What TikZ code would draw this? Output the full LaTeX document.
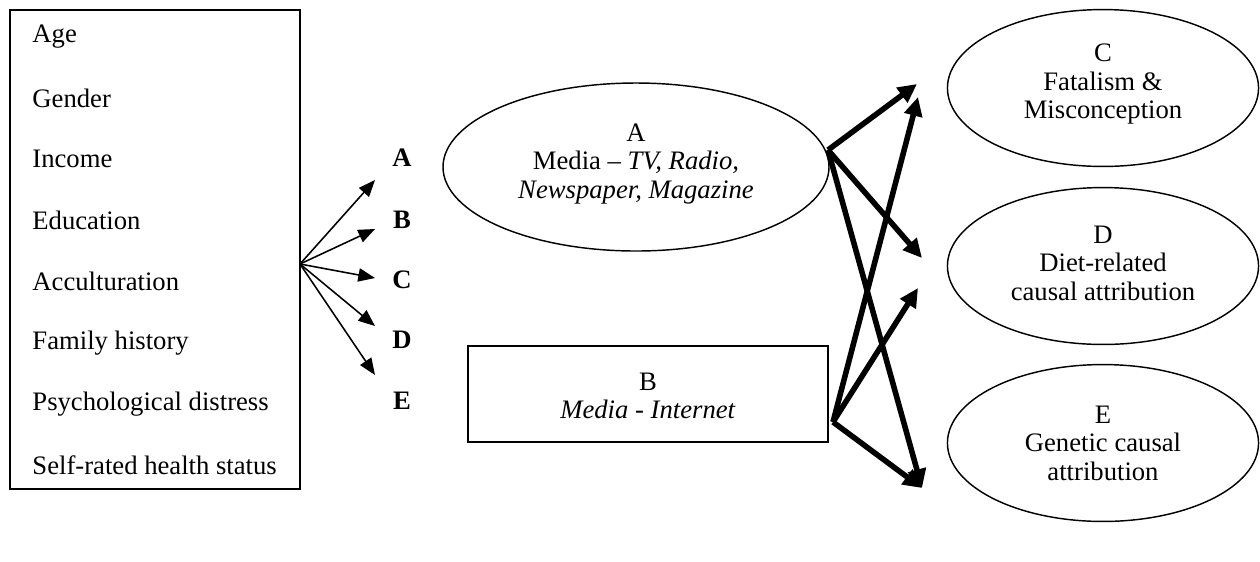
\documentclass[tikz,border=0pt]{standalone}
\usepackage{fontspec}
\setmainfont{Liberation Serif}
\usetikzlibrary{shapes.geometric,arrows.meta}
\begin{document}
\begin{tikzpicture}[x=0.45pt,y=-0.45pt,
  every node/.style={font=\fontsize{12}{12.8}\selectfont},
  thinbox/.style={draw,line width=0.8pt,inner sep=0pt},
  ell/.style={draw,ellipse,line width=0.65pt,inner sep=0pt},
  item/.style={anchor=west,inner sep=0pt},
  lbl/.style={font=\fontsize{12}{12.8}\selectfont\bfseries,inner sep=0pt},
  txt/.style={align=center,inner sep=0pt},
  fanarrow/.style={line width=0.7pt,-{Triangle[length=7.5pt,width=6pt]}},
  bigarrow/.style={line width=2.5pt,-{Triangle[length=8.5pt,width=8pt]}}]
\useasboundingbox (0,0) rectangle (1260,561);
% left box
\node[thinbox,minimum width=130.5pt,minimum height=215.5pt] (box) at (155,249.5) {};
\node[item] (i1) at (32,37) {Age};
\node[item] (i2) at (32,98) {Gender};
\node[item] (i3) at (32,159) {Income};
\node[item] (i4) at (32,220) {Education};
\node[item] (i5) at (32,281) {Acculturation};
\node[item] (i6) at (32,343) {Family history};
\node[item] (i7) at (32,404) {Psychological distress};
\node[item] (i8) at (32,465) {Self-rated health status};
% fan
\coordinate (fan) at (300,264);
\coordinate (tA) at (375,180);
\coordinate (tB) at (375,229);
\coordinate (tC) at (375,278);
\coordinate (tD) at (375,326);
\coordinate (tE) at (375,375);
\node[lbl] (lA) at (402,158) {A};
\node[lbl] (lB) at (402,220) {B};
\node[lbl] (lC) at (402,280) {C};
\node[lbl] (lD) at (402,340) {D};
\node[lbl] (lE) at (402,401) {E};
\foreach \t in {tA,tB,tC,tD,tE} \draw[fanarrow] (fan) -- (\t);
% A ellipse
\node[ell,minimum width=173.7pt,minimum height=75.6pt] (A) at (636,167) {};
\node[txt] (At) at (636,164) {A\\Media -- \textit{TV, Radio,}\\\textit{Newspaper, Magazine}};
% B rectangle
\node[thinbox,minimum width=162pt,minimum height=43.2pt] (B) at (648,394) {};
\node[txt] (Bt) at (648,396) {B\\\textit{Media - Internet}};
% right ellipses
\node[ell,minimum width=140pt,minimum height=70.6pt] (C) at (1103,88) {};
\node[txt] (Ct) at (1103,84) {C\\Fatalism \&\\Misconception};
\node[ell,minimum width=140pt,minimum height=70.6pt] (D) at (1103,266) {};
\node[txt] (Dt) at (1103,263) {D\\Diet-related\\causal attribution};
\node[ell,minimum width=140pt,minimum height=70.6pt] (E) at (1103,443) {};
\node[txt] (Et) at (1103,443) {E\\Genetic causal\\attribution};
% thick arrows
\coordinate (sA) at (828,150);
\coordinate (sB) at (833,422);
\coordinate (eAC) at (917,84);
\coordinate (eBC) at (918,97);
\coordinate (eAD) at (922,258);
\coordinate (eBD) at (918,288);
\coordinate (eE) at (922,488);
\draw[bigarrow] (sA) -- (eAC);
\draw[bigarrow] (sA) -- (eAD);
\draw[bigarrow] (sA) -- (eE);
\draw[bigarrow] (sB) -- (eBC);
\draw[bigarrow] (sB) -- (eBD);
\draw[bigarrow] (sB) -- (eE);
\end{tikzpicture}
\end{document}
